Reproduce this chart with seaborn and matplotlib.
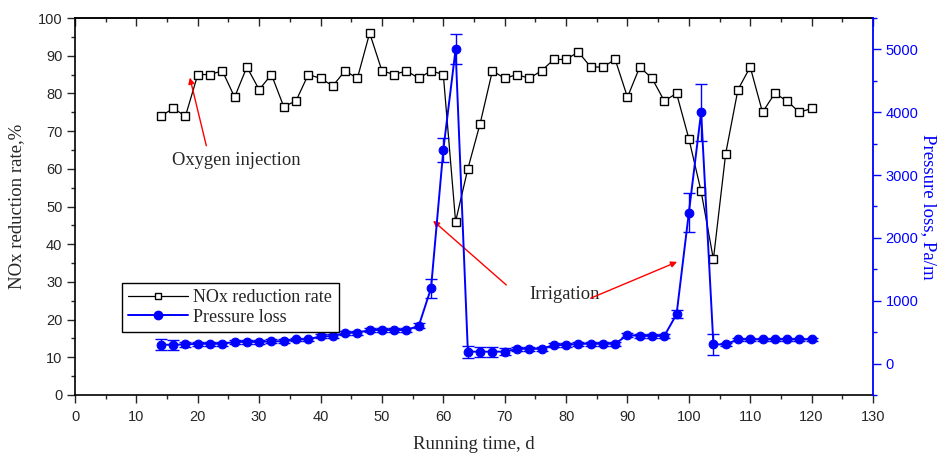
import matplotlib
matplotlib.use("Agg")
import matplotlib.pyplot as plt
from matplotlib.ticker import MultipleLocator
from matplotlib.lines import Line2D
import seaborn as sns
import pandas as pd

# ---------------- data ----------------
days = [14, 16, 18, 20, 22, 24, 26, 28, 30, 32,
        34, 36, 38, 40, 42, 44, 46, 48, 50, 52,
        54, 56, 58, 60, 62, 64, 66, 68, 70, 72,
        74, 76, 78, 80, 82, 84, 86, 88, 90, 92,
        94, 96, 98, 100, 102, 104, 106, 108, 110, 112,
        114, 116, 118, 120]
nox_rate = [74, 76, 74, 85, 85, 86, 79, 87, 81, 85,
            76.5, 78, 85, 84, 82, 86, 84, 96, 86, 85,
            86, 84, 86, 85, 46, 60, 72, 86, 84, 85,
            84, 86, 89, 89, 91, 87, 87, 89, 79, 87,
            84, 78, 80, 68, 54, 36, 64, 81, 87, 75,
            80, 78, 75, 76]
pressure = [300, 300, 305, 315, 315, 315, 345, 345, 345, 355,
            355, 385, 385, 435, 435, 490, 490, 535, 535, 535,
            535, 600, 1200, 3400, 5000, 190, 190, 190, 190, 235,
            235, 235, 295, 295, 315, 315, 315, 315, 455, 440,
            440, 440, 785, 2400, 4000, 305, 305, 385, 385, 385,
            385, 385, 385, 385]
pressure_err = [90, 80, 40, 30, 30, 30, 30, 30, 30, 30,
                30, 30, 30, 30, 30, 30, 30, 30, 30, 30,
                30, 40, 150, 190, 240, 95, 80, 80, 60, 30,
                30, 30, 30, 30, 30, 30, 30, 30, 30, 30,
                30, 30, 60, 310, 450, 165, 30, 30, 30, 30,
                30, 30, 30, 30]
x_ticks = [0, 10, 20, 30, 40, 50, 60, 70, 80, 90, 100, 110, 120, 130]
left_ticks = [0, 10, 20, 30, 40, 50, 60, 70, 80, 90, 100]
right_ticks = [0, 1000, 2000, 3000, 4000, 5000]

df = pd.DataFrame({"day": days, "nox": nox_rate, "p": pressure, "err": pressure_err})

# ---------------- style ----------------
sns.set_style("ticks")
plt.rcParams['font.family'] = ['Liberation Sans', 'DejaVu Sans']
SERIF = ['Liberation Serif', 'DejaVu Serif']
BLUE = '#0000FF'

fig = plt.figure(figsize=(9.4, 4.54), dpi=100)
ax = fig.add_axes([75/940, 1-395/454, (873-75)/940, (395-18)/454])
ax2 = ax.twinx()

# NOx series
sns.lineplot(data=df, x="day", y="nox", ax=ax, color='black', lw=0.9,
             marker='s', markersize=5.8, markerfacecolor='white',
             markeredgecolor='black', markeredgewidth=1.0, zorder=3)

# Pressure series
ax2.errorbar(df["day"], df["p"], yerr=df["err"], fmt='none', ecolor=BLUE,
             elinewidth=1.0, capsize=4, capthick=1.0, zorder=2)
sns.lineplot(data=df, x="day", y="p", ax=ax2, color=BLUE, lw=1.4,
             marker='o', markersize=6.3, markerfacecolor=BLUE,
             markeredgecolor=BLUE, zorder=3)

# axes limits & ticks
ax.set_xlim(0, 130)
ax.set_ylim(0, 100)
ax2.set_ylim(-500, 5500)
ax.set_xticks(x_ticks)
ax.set_yticks(left_ticks)
ax2.set_yticks(right_ticks)
ax.xaxis.set_minor_locator(MultipleLocator(5))
ax.yaxis.set_minor_locator(MultipleLocator(5))
ax2.yaxis.set_minor_locator(MultipleLocator(500))

ax.tick_params(axis='x', which='major', direction='out', length=6, width=1,
               labelsize=10.5, pad=5, top=False)
ax.tick_params(axis='x', which='minor', direction='out', length=3, width=1, top=False)
ax.tick_params(axis='y', which='major', direction='out', length=6, width=1, labelsize=10.5, pad=3)
ax.tick_params(axis='y', which='minor', direction='out', length=3, width=1)
ax2.tick_params(axis='y', which='major', direction='out', length=6, width=1,
                colors=BLUE, labelsize=10.5, labelcolor=BLUE, pad=3)
ax2.tick_params(axis='y', which='minor', direction='out', length=3, width=1, colors=BLUE)

# top axis: inward ticks, no labels
top = ax.secondary_xaxis('top')
top.set_xticks(x_ticks)
top.xaxis.set_minor_locator(MultipleLocator(5))
top.tick_params(which='major', direction='in', length=6, width=1, labeltop=False)
top.tick_params(which='minor', direction='in', length=3, width=1)
top.spines['top'].set_linewidth(1.2)

for s in ['left', 'bottom', 'top']:
    ax.spines[s].set_color('black')
    ax.spines[s].set_linewidth(1.2)
    ax2.spines[s].set_visible(False)
ax.spines['right'].set_visible(False)
ax2.spines['right'].set_color(BLUE)
ax2.spines['right'].set_linewidth(1.3)

# labels
ax.set_xlabel("Running time, d", fontfamily=SERIF, fontsize=13.5)
ax.xaxis.set_label_coords(0.5, -0.108)
ax.set_ylabel("NOx reduction rate,%", fontfamily=SERIF, fontsize=13.5)
ax.yaxis.set_label_coords(-0.063, 0.5)
ax2.set_ylabel("Pressure loss, Pa/m", fontfamily=SERIF, fontsize=13.5, color=BLUE,
               rotation=270, va='center')
ax2.yaxis.set_label_coords(1.07, 0.5)

# annotations
ax.annotate("", xy=(18.6, 84.9), xytext=(21.5, 65.4),
            arrowprops=dict(arrowstyle='-|>', color='red', lw=1.0, mutation_scale=9))
ax.text(26.3, 62.3, "Oxygen injection", fontfamily=SERIF, fontsize=13.3, ha='center', va='center')
ax.text(79.8, 26.7, "Irrigation", fontfamily=SERIF, fontsize=13.3, ha='center', va='center')
ax.annotate("", xy=(58.0, 46.7), xytext=(70.6, 28.7),
            arrowprops=dict(arrowstyle='-|>', color='red', lw=1.0, mutation_scale=9))
ax.annotate("", xy=(98.5, 35.6), xytext=(83.6, 25.4),
            arrowprops=dict(arrowstyle='-|>', color='red', lw=1.0, mutation_scale=9))

# legend
handles = [Line2D([], [], color='black', lw=0.9, marker='s', markersize=5,
                  markerfacecolor='white', markeredgecolor='black'),
           Line2D([], [], color=BLUE, lw=1.4, marker='o', markersize=6,
                  markerfacecolor=BLUE, markeredgecolor=BLUE)]
leg = ax2.legend(handles, ["NOx reduction rate", "Pressure loss"],
                 loc='lower left', bbox_to_anchor=(0.059, 0.167), borderaxespad=0,
                 fancybox=False, frameon=True, edgecolor='black', framealpha=1,
                 prop={'family': SERIF, 'size': 13}, handlelength=3.3,
                 handletextpad=0.3, borderpad=0.35, labelspacing=0.15, numpoints=1)
leg.get_frame().set_linewidth(1.0)
leg.set_zorder(10)

fig.savefig("out.png", dpi=100)
